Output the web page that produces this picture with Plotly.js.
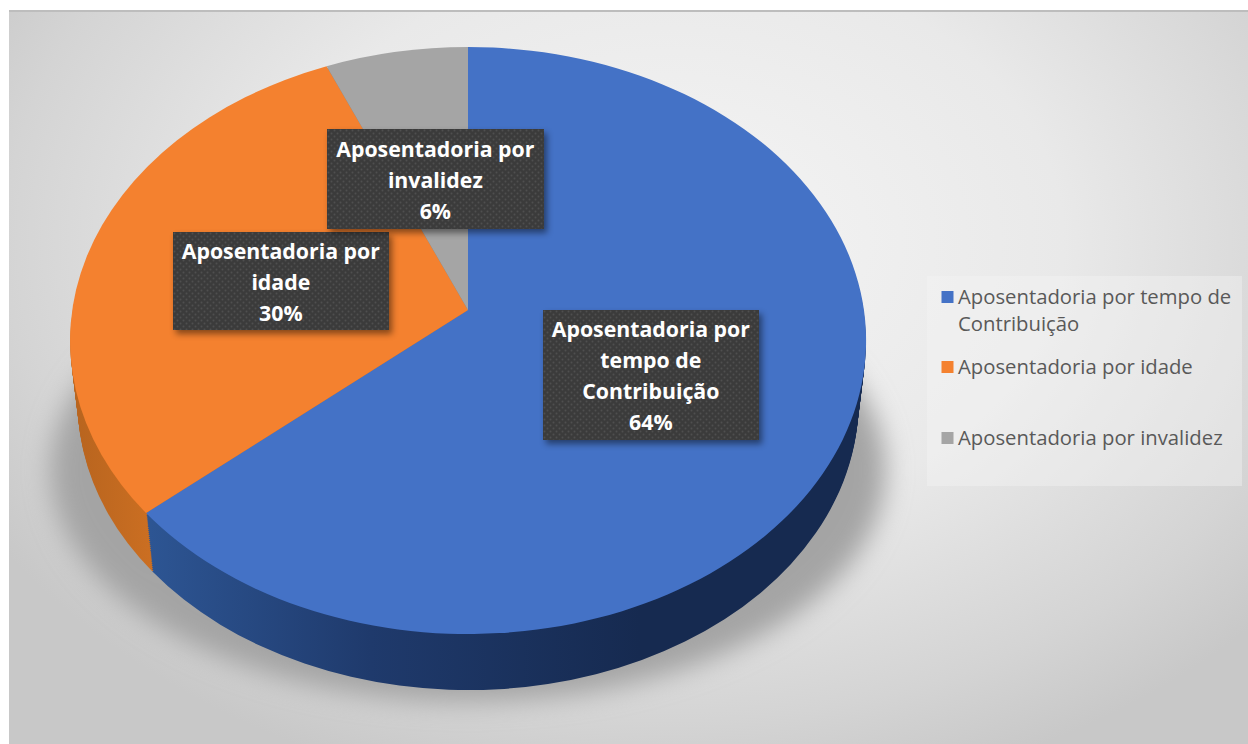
<!DOCTYPE html>
<html lang="pt">
<head>
<meta charset="utf-8">
<script src="https://cdn.plot.ly/plotly-3.0.1.min.js"></script>
<style>
  html, body { margin: 0; padding: 0; background: #fff; width: 1248px; height: 744px; overflow: hidden; }
  #bg { position: absolute; left: 9px; top: 10px; width: 1239px; height: 734px;
        border-top: 2px solid #bdbdbd; box-sizing: border-box;
        background: radial-gradient(ellipse 790px 570px at 660px 230px, #f5f5f5 0%, #e9e9e9 50%, #d4d4d4 84%, #c8c8c8 100%); }
  #chart { position: absolute; left: 0; top: 0; width: 1248px; height: 744px; }
</style>
</head>
<body>
<div id="bg"></div>
<div id="chart"></div>
<script>
const categories = ['Aposentadoria por tempo de<br>Contribuição', 'Aposentadoria por idade', 'Aposentadoria por invalidez'];
const values = [63.7, 29.9, 6.4];
const dataLabelNames = ['Aposentadoria por<br>tempo de<br>Contribuição', 'Aposentadoria por<br>idade', 'Aposentadoria por<br>invalidez'];
const dataLabelPercents = ['64%', '30%', '6%'];
const topColors = ['#4472c6', '#f4812f', '#a5a5a5'];
const sideFills = ['url(#sideBlue)', 'url(#sideOrange)', '#7c7c7c'];
const labelBoxes = [
  {x: 543, y: 310, w: 216, h: 130},
  {x: 173, y: 232, w: 216, h: 98},
  {x: 327, y: 129, w: 217, h: 100}
];

const W = 1248, H = 744;
const CX = 468, TOP_CY = 340.5, TOP_R = 293.5;
const RX_RATIO = 398 / 293.5, SX = 395.8 / 293.5, SY = 290.3 / 293.5, K = 0.1039, OFF = -30.5 / 293.5;
const DEPTH_STEPS = 30;
const LABEL_FONT = 21.3;
const SHADOW_RING = {cy: 470, r: 232, stretch: 1.80 / RX_RATIO};

function domainFor(cx, cy, r) {
  return {x: [(cx - r) / W, (cx + r) / W], y: [1 - (cy + r) / H, 1 - (cy - r) / H]};
}
function pieTrace(cy, r, colors, showlegend) {
  return {
    type: 'pie', labels: categories, values: values, sort: false, direction: 'clockwise', rotation: 0,
    textinfo: 'none', hoverinfo: 'skip', showlegend: showlegend,
    domain: domainFor(CX, cy, r),
    marker: {colors: colors, line: {width: 0}}
  };
}

const traces = [];
traces.push(pieTrace(SHADOW_RING.cy, SHADOW_RING.r, ['#a4a4a4', '#a4a4a4', '#a4a4a4'], false));   // soft floor shadow
for (let i = DEPTH_STEPS; i >= 1; i--) {
  const t = i / DEPTH_STEPS;
  traces.push(pieTrace(TOP_CY + 61.6 * t, TOP_R * (1 - 0.019 * t), ['#1b3260', '#c56a22', '#7c7c7c'], false));
}
traces.push(pieTrace(TOP_CY, TOP_R, topColors, true));

const annotations = labelBoxes.map((b, i) => ({
  xref: 'paper', yref: 'paper', x: (b.x + b.w / 2) / W, y: 1 - (b.y + b.h / 2) / H,
  xanchor: 'center', yanchor: 'middle', showarrow: false, align: 'center',
  width: b.w, height: b.h, borderpad: 0, borderwidth: 0, bgcolor: '#3b3b3b',
  text: dataLabelNames[i] + '<br>' + dataLabelPercents[i],
  font: {family: '"Open Sans", sans-serif', size: LABEL_FONT, color: '#ffffff', weight: 700}
}));

const layout = {
  width: W, height: H, margin: {l: 0, r: 0, t: 0, b: 0},
  paper_bgcolor: 'rgba(0,0,0,0)', plot_bgcolor: 'rgba(0,0,0,0)',
  showlegend: true,
  legend: {
    x: 918 / W, xanchor: 'left', y: 1 - 276 / H, yanchor: 'top', traceorder: 'normal',
    bgcolor: 'rgba(0,0,0,0)', borderwidth: 0,
    font: {family: '"Open Sans", sans-serif', size: 20.3, color: '#595959'}
  },
  shapes: [{
    type: 'rect', xref: 'paper', yref: 'paper', layer: 'below',
    x0: 927 / W, x1: 1242 / W, y0: 1 - 486 / H, y1: 1 - 276 / H,
    fillcolor: 'rgba(245,245,245,0.4)', line: {width: 0}
  }],
  annotations: annotations
};

const NS = 'http://www.w3.org/2000/svg';
const gd = document.getElementById('chart');

function addDefs() {
  const svg = gd.querySelector('.main-svg');
  const defs = document.createElementNS(NS, 'defs');
  defs.innerHTML =
    '<linearGradient id="sideBlue" gradientUnits="userSpaceOnUse" x1="150" y1="0" x2="640" y2="0">' +
      '<stop offset="0" stop-color="#2d5593"/><stop offset="0.45" stop-color="#1f3a6c"/><stop offset="1" stop-color="#162a50"/></linearGradient>' +
    '<linearGradient id="sideOrange" gradientUnits="userSpaceOnUse" x1="80" y1="0" x2="155" y2="0">' +
      '<stop offset="0" stop-color="#b9651f"/><stop offset="1" stop-color="#cc6f22"/></linearGradient>' +
    '<filter id="softShadow" filterUnits="userSpaceOnUse" x="0" y="0" width="1248" height="744"><feGaussianBlur stdDeviation="13"/></filter>' +
    '<pattern id="dots" patternUnits="userSpaceOnUse" width="6" height="6">' +
      '<rect width="6" height="6" fill="#3b3b3b"/><circle cx="1.5" cy="1.5" r="1" fill="#4f4f4f"/><circle cx="4.5" cy="4.5" r="1" fill="#4f4f4f"/></pattern>';
  svg.insertBefore(defs, svg.firstChild);
}

function projectPies() {
  const groups = gd.querySelectorAll('.pielayer .trace');
  groups.forEach((g, ti) => {
    const cd = gd.calcdata[ti];
    const cx = cd[0].cx, cy = cd[0].cy, r = cd[0].r;
    const stretch = ti === 0 ? SHADOW_RING.stretch : 1;
    const proj = p => {
      const u = p[0] / r, v = p[1] / r, d = 1 - K * v;
      return [cx + stretch * SX * r * u / d, cy + OFF * r + SY * r * v / d];
    };
    const tip = [cx, cy + OFF * r];
    const isSide = ti > 0 && ti < groups.length - 1;
    g.querySelectorAll('.slice path.surface').forEach((path, j) => {
      const pt = cd[j], a = proj(pt.px0), b = proj(pt.px1);
      path.setAttribute('d', 'M' + tip + 'L' + a + 'A' + (stretch * RX_RATIO * r) + ',' + r + ' 0 ' + (pt.largeArc ? 1 : 0) + ' 1 ' + b + 'Z');
      if (isSide) path.style.fill = sideFills[j];
    });
    if (ti === 0) g.setAttribute('filter', 'url(#softShadow)');
  });
}

function styleLabels() {
  const pitch = 31, base = 1.3 * LABEL_FONT;
  gd.querySelectorAll('.annotation').forEach(a => {
    const bg = a.querySelector('rect.bg');
    if (bg) {
      bg.style.fill = 'url(#dots)';
      bg.style.fillOpacity = 1;
      bg.style.filter = 'drop-shadow(3px 4px 3px rgba(0,0,0,0.45))';
    }
    const lines = a.querySelectorAll('text tspan.line');
    const n = lines.length;
    lines.forEach((l, i) => {
      l.setAttribute('dy', (i * pitch - (n - 1) * (pitch - base) / 2 + 0.5) + 'px');
    });
  });
}

function styleLegend() {
  const scroll = gd.querySelector('.legend .scrollbox');
  if (scroll) scroll.removeAttribute('clip-path');
  const ys = [21, 91, 162];
  gd.querySelectorAll('.legend g.traces').forEach((item, i) => {
    item.setAttribute('transform', 'translate(0,' + ys[i] + ')');
    const pts = item.querySelector('.legendpoints');
    if (pts) pts.setAttribute('transform', 'translate(9.5,0)');
    const lines = item.querySelectorAll('text tspan.line');
    const text = item.querySelector('text.legendtext');
    if (text) {
      lines.forEach((l, k) => l.setAttribute('dy', (k * 27) + 'px'));
      lines.forEach(l => l.setAttribute('y', 7));
      if (!lines.length) text.setAttribute('y', 7);
    }
  });
}

Plotly.newPlot(gd, traces, layout, {staticPlot: true, displayModeBar: false}).then(() => {
  addDefs();
  projectPies();
  styleLabels();
  styleLegend();
});
</script>
</body>
</html>
